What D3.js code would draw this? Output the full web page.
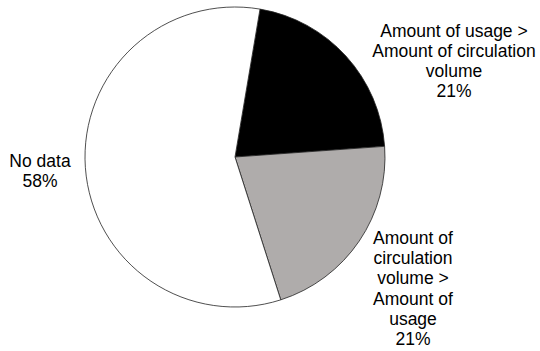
<!DOCTYPE html>
<html>
<head>
<meta charset="utf-8">
<script src="https://cdn.jsdelivr.net/npm/d3@7"></script>
<style>
  body { margin: 0; background: #fff; }
  text { font-family: "Liberation Sans", Arial, sans-serif; font-size: 17.5px; fill: #000; }
</style>
</head>
<body>
<div id="chart"></div>
<script>
// slice data, clockwise from the black slice
const categories = ["Amount of usage > Amount of circulation volume",
                    "Amount of circulation volume > Amount of usage",
                    "No data"];
const values = [21.2, 21.2, 57.6];
const pctLabels = ["21%", "21%", "58%"];
const labelLines = [
    ["Amount of usage >", "Amount of circulation", "volume"],
    ["Amount of", "circulation", "volume >", "Amount of", "usage"],
    ["No data"]
];
const colors = ["#000000", "#afacab", "#ffffff"];

// svg set up
let svgWidth = 540;
let svgHeight = 351;
let cx = 235, cy = 157, radius = 150;
let lineHeight = 20.2;
// label anchor: centre x and first baseline y
let labelPos = [
    { x: 454, y: 36.5 },
    { x: 413, y: 244 },
    { x: 40, y: 166.5 }
];

let svg = d3.select("#chart")
    .append("svg")
    .attr("width", svgWidth)
    .attr("height", svgHeight);

let pieGroup = svg.append("g")
    .attr("transform", `translate(${cx},${cy})`);

// start the black slice a bit past twelve o'clock
let startAngle = 9.6 * Math.PI / 180;
let pie = d3.pie()
    .sort(null)
    .startAngle(startAngle)
    .endAngle(startAngle + 2 * Math.PI);
let arc = d3.arc().innerRadius(0).outerRadius(radius);

pieGroup.selectAll("path")
    .data(pie(values))
    .enter()
    .append("path")
    .attr("d", arc)
    .attr("fill", (d, i) => colors[i])
    .attr("stroke", "#222")
    .attr("stroke-width", 0.8)
    .attr("stroke-linejoin", "round");

// labels
categories.forEach((c, i) => {
    let lines = labelLines[i].concat([pctLabels[i]]);
    let t = svg.append("text")
        .attr("text-anchor", "middle")
        .attr("x", labelPos[i].x)
        .attr("y", labelPos[i].y);
    lines.forEach((l, j) => {
        t.append("tspan")
            .attr("x", labelPos[i].x)
            .attr("dy", j === 0 ? 0 : lineHeight)
            .text(l);
    });
});
</script>
</body>
</html>
